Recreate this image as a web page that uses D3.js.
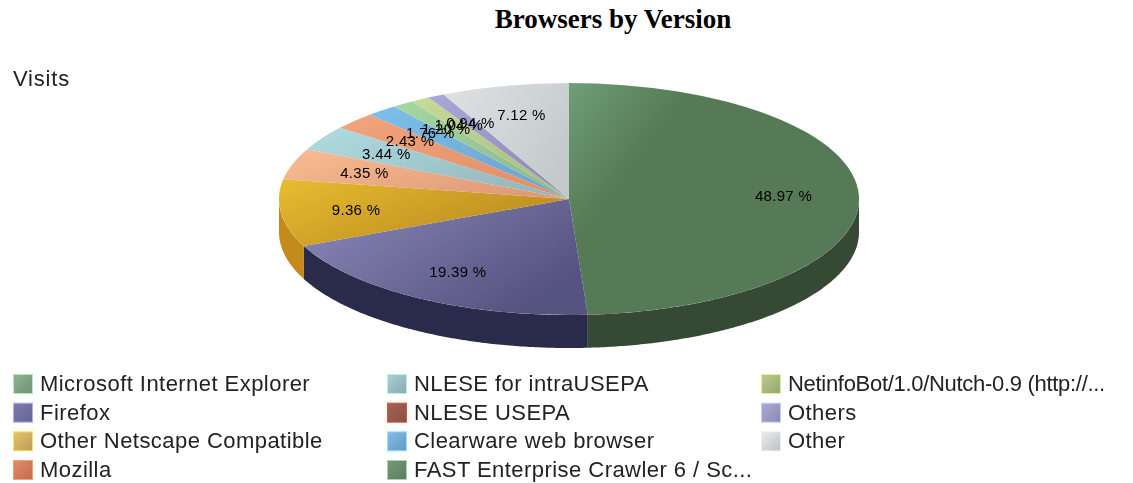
<!DOCTYPE html>
<html>
<head>
<meta charset="utf-8">
<script src="https://cdn.jsdelivr.net/npm/d3@7"></script>
<style>
html, body { margin: 0; padding: 0; background: #fff; }
svg { display: block; }
text { font-family: "Liberation Sans", Arial, sans-serif; }
</style>
</head>
<body>
<div id="chart"></div>
<script>
var browsers = ["Microsoft Internet Explorer", "Firefox", "Other Netscape Compatible", "Mozilla",
    "NLESE for intraUSEPA", "NLESE USEPA", "Clearware web browser", "FAST Enterprise Crawler 6 / Sc...",
    "NetinfoBot/1.0/Nutch-0.9 (http://...", "Others", "Other"];
var visits = [48.97, 19.39, 9.36, 4.35, 3.44, 2.43, 1.76, 1.20, 1.04, 0.94, 7.12];
var lightColors = ["#6f9f76", "#8b89bb", "#e8bc30", "#f8bd92", "#b0dce2", "#f2a47c", "#7cc0ea", "#a6d8a0", "#c6dc98", "#aaa8d8", "#dfe2e4"];
var baseColors = ["#567a56", "#55527f", "#b98a20", "#e09a78", "#94b8bc", "#e0906a", "#6ea4cc", "#8cba8c", "#aabc84", "#8c8ab8", "#c4cacc"];
var sideColors = ["#344a34", "#2c2b4c", "#c48a1e", "#c07a50", "#7f9ca0", "#b8704c", "#5284a8", "#6c966c", "#8a9a64", "#6c6a98", "#9aa0a4"];
var swatchColors = ["#7fa283", "#6f6fa0", "#d0b060", "#d07c5c", "#98bcc0", "#96584e", "#74aad4", "#688a6c", "#a8b87c", "#9a9ac4", "#d2d6d8"];
var swatchBorders = ["#b8e8bc", "#b0b0f0", "#f8e860", "#ff9c70", "#b8f0f4", "#e05030", "#90e4ff", "#a8d8a8", "#e4f0a0", "#ccccff", "#eeeeee"];
var legendColumns = [0, 0, 0, 0, 1, 1, 1, 1, 2, 2, 2];

var width = 1133, height = 483;
var cx = 569, cy = 199, rx = 290, ry = 116, depth = 33;

var svg = d3.select("#chart").append("svg")
    .attr("width", width)
    .attr("height", height);
var defs = svg.append("defs");
defs.append("filter").attr("id", "soft")
    .append("feGaussianBlur").attr("stdDeviation", 0.6);

browsers.forEach(function(b, i){
    var grad = defs.append("linearGradient").attr("id", "slice" + i)
        .attr("x1", 0).attr("y1", 0).attr("x2", 1).attr("y2", 0.6);
    grad.append("stop").attr("offset", "0%").attr("stop-color", lightColors[i]);
    grad.append("stop").attr("offset", i == 0 ? "32%" : "100%").attr("stop-color", baseColors[i]);
    var side = defs.append("linearGradient").attr("id", "swatch" + i)
        .attr("x1", 0).attr("y1", 0).attr("x2", 1).attr("y2", 1);
    side.append("stop").attr("offset", "0%").attr("stop-color", d3.color(swatchColors[i]).brighter(0.3));
    side.append("stop").attr("offset", "100%").attr("stop-color", d3.color(swatchColors[i]).darker(0.3));
});

var pie = d3.pie().sort(null).value(function(d){ return d; }).startAngle(0).endAngle(2 * Math.PI);
var slices = pie(visits);
var arc = d3.arc().innerRadius(0).outerRadius(rx);
var labelArc = d3.arc().innerRadius(rx * 0.74).outerRadius(rx * 0.74);

// x and y for an angle measured clockwise from the top of the ellipse
var px = function(a){ return cx + rx * Math.sin(a); };
var py = function(a){ return cy - ry * Math.cos(a); };

var chart = svg.append("g").attr("filter", "url(#soft)");

// side wall, only the front half shows
var wall = chart.append("g");
slices.forEach(function(s, i){
    var a0 = Math.max(s.startAngle, Math.PI / 2),
        a1 = Math.min(s.endAngle, 3 * Math.PI / 2);
    if(a1 <= a0) return;
    var angles = d3.range(a0, a1, 0.01).concat([a1]);
    var top = angles.map(function(a){ return [px(a), py(a)]; });
    var bottom = angles.slice().reverse().map(function(a){ return [px(a), py(a) + depth]; });
    wall.append("path")
        .attr("d", d3.line()(top.concat(bottom)) + "Z")
        .attr("fill", sideColors[i]);
});

// top face, a circular pie squashed to the ellipse
chart.append("g")
    .attr("transform", "translate(" + cx + "," + cy + ") scale(1," + (ry / rx) + ")")
    .selectAll("path")
    .data(slices)
    .enter().append("path")
    .attr("d", arc)
    .attr("fill", function(d, i){ return "url(#slice" + i + ")"; });

// percentage labels
var labels = svg.append("g").attr("filter", "url(#soft)");
slices.forEach(function(s){
    var c = labelArc.centroid(s);
    labels.append("text")
        .attr("x", cx + c[0])
        .attr("y", cy + c[1] * ry / rx + 5)
        .attr("text-anchor", "middle")
        .attr("font-size", 15)
        .attr("letter-spacing", 0.3)
        .attr("fill", "#000")
        .text(d3.format(".2f")(s.data) + " %");
});

// title and axis caption
svg.append("text")
    .attr("x", 613).attr("y", 28)
    .attr("text-anchor", "middle")
    .style("font-family", "'Liberation Serif', 'Times New Roman', serif")
    .attr("font-weight", "bold")
    .attr("font-size", 27)
    .text("Browsers by Version");
var captions = svg.append("g").attr("filter", "url(#soft)");
captions.append("text")
    .attr("x", 13).attr("y", 86)
    .attr("font-size", 22)
    .attr("letter-spacing", 0.8)
    .attr("fill", "#222")
    .text("Visits");

// legend
var colX = d3.scalePoint().domain([0, 1, 2]).range([13, 761]);
var rowY = d3.scalePoint().domain([0, 1, 2, 3]).range([374, 460]);
var rowCount = [0, 0, 0];
browsers.forEach(function(b, i){
    var col = legendColumns[i], row = rowCount[col]++;
    var x = colX(col), y = rowY(row);
    captions.append("rect")
        .attr("x", x + 0.5).attr("y", y + 0.5)
        .attr("width", 19).attr("height", 19)
        .attr("fill", "url(#swatch" + i + ")")
        .attr("stroke", swatchBorders[i]);
    captions.append("text")
        .attr("x", x + 27).attr("y", y + 17)
        .attr("font-size", 22)
        .attr("letter-spacing", b.indexOf("http") >= 0 ? -0.3 : 0.45)
        .attr("fill", "#222")
        .text(b);
});
</script>
</body>
</html>
